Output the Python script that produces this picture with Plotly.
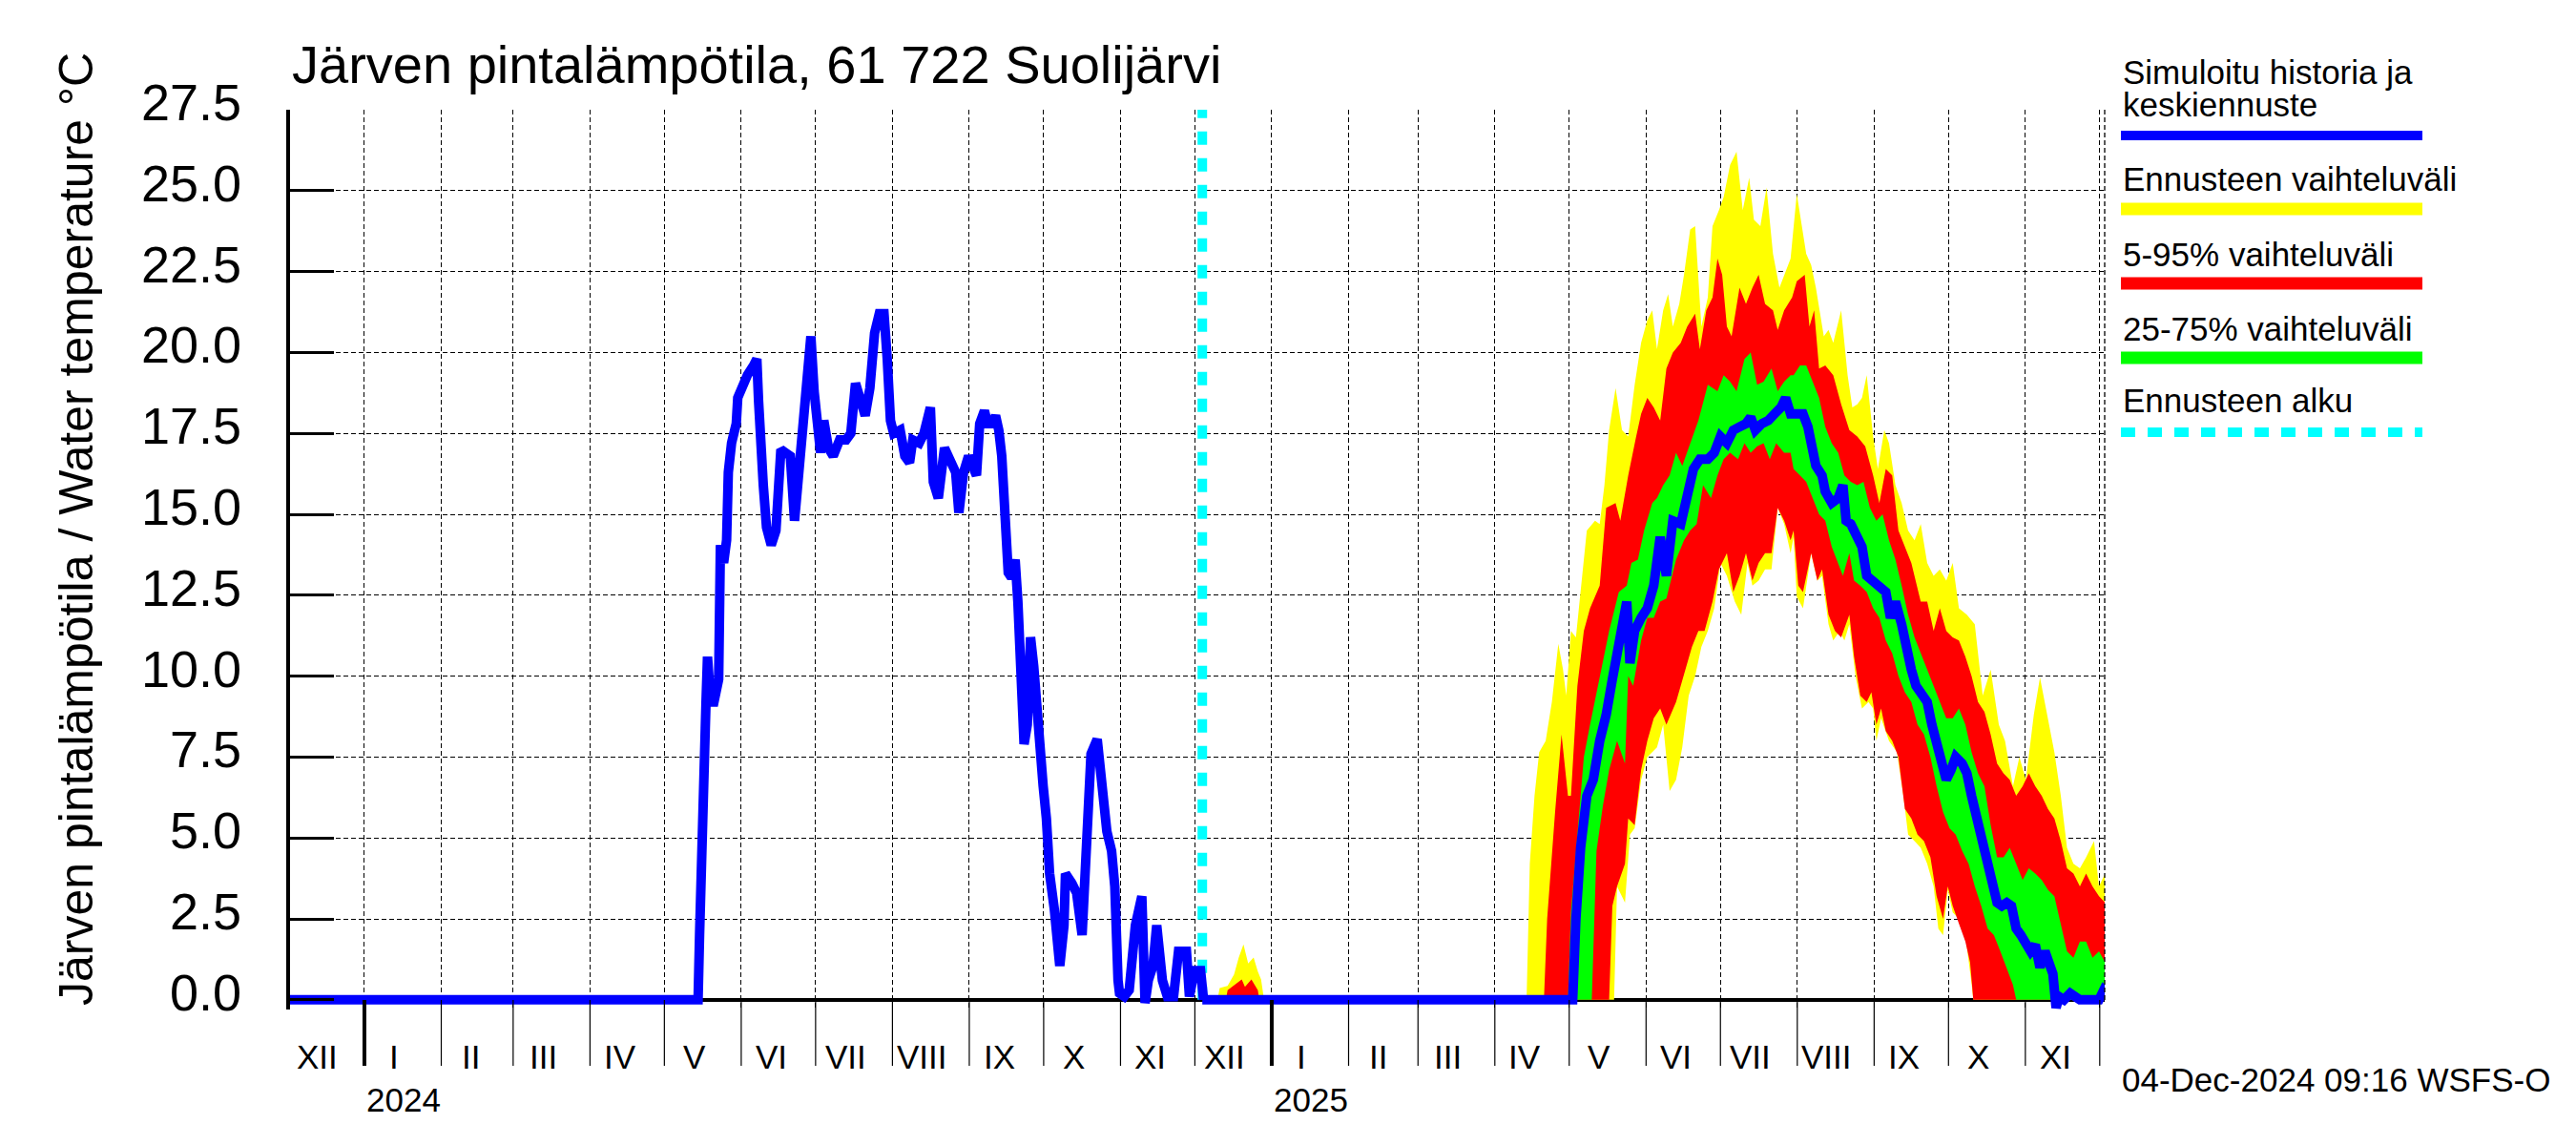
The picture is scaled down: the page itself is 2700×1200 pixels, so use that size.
import pandas as pd
import plotly.graph_objects as go

# ---------------- data ----------------
# simulated history (days since 2024-01-01)
hist_day = [-31, 134.6, 135.2, 135.9, 136.8, 137.8, 138.4, 139.7, 141.0, 142.9, 143.6, 144.9, 146.1, 146.8,
            148.1, 150.0, 150.6, 152.6, 154.5, 157.0, 158.3, 159.0, 159.6, 160.9, 162.2, 164.1, 166.0, 168.0,
            169.9, 171.8, 173.5, 175.0, 176.3, 178.2, 180.1, 181.4, 183.3, 184.0, 185.3, 187.2, 189.1, 191.7,
            194.3, 196.2, 198.1, 200.0, 202.0, 203.9, 205.8, 207.7, 209.6, 210.9, 212.2, 213.5, 216.1, 218.0,
            219.9, 221.2, 223.8, 225.7, 228.3, 229.5, 231.5, 234.0, 236.6, 238.5, 239.8, 241.7, 243.7, 245.6,
            246.9, 248.2, 250.1, 251.4, 253.3, 254.6, 255.9, 257.1, 258.4, 259.7, 261.0, 262.5, 263.6, 264.8,
            266.1, 267.4, 268.7, 270.0, 271.9, 273.8, 275.1, 276.4, 278.3, 280.5, 282.2, 282.8, 285.4, 287.3,
            289.5, 291.1, 293.1, 295.6, 297.6, 299.5, 301.4, 302.7, 304.0, 304.6, 306.5, 308.5, 311.0, 313.6,
            314.9, 316.2, 318.1, 319.6, 321.9, 323.9, 326.4, 328.4, 331.6, 332.8, 334.8, 337.3, 338.5]
hist_temp = [0, 0, 2.0, 4.9, 7.8, 9.2, 10.6, 9.2, 9.2, 9.9, 14.05, 13.5, 14.2, 16.3,
             17.2, 17.8, 18.6, 19.05, 19.3, 19.6, 19.8, 18.5, 16.9, 15.9, 14.6, 14.05, 14.5, 17.0,
             16.9, 16.8, 14.8, 16.2, 17.8, 19.6, 20.5, 18.8, 17.5, 16.9, 17.9, 17.05, 16.8, 17.3,
             17.3, 17.5, 19.05, 18.5, 18.05, 18.9, 20.6, 21.2, 21.2, 19.8, 17.9, 17.5, 17.6, 16.8,
             16.6, 17.3, 17.2, 17.5, 18.3, 16.0, 15.5, 17.05, 16.6, 16.3, 15.05, 16.3, 16.8, 16.3,
             16.2, 17.8, 18.2, 17.8, 17.8, 18.05, 17.6, 16.8, 14.9, 13.2, 13.05, 13.6, 12.3, 9.9,
             7.9, 8.5, 11.2, 10.3, 8.05, 6.6, 5.6, 3.9, 2.8, 1.05, 2.3, 3.9, 3.6, 3.3,
             2.0, 4.9, 7.6, 8.05, 6.3, 5.2, 4.6, 3.5, 0.6, 0.2, 0.1, 0.3, 2.3, 3.2,
             -0.1, 0.6, 1.05, 2.3, 0.6, 0.1, 0.1, 1.5, 1.5, 0.1, 0.9, 0.9, 0.0]

# forecast (days since 2025-01-01)
med_day = [-28, 121.4, 122.7, 124.6, 127.1, 129.7, 132.3, 134.9, 137.4, 139.3, 141.3, 143.2, 144.5, 146.4,
           149.0, 151.5, 154.1, 156.7, 159.2, 161.8, 165.0, 167.6, 170.1, 172.7, 175.9, 178.5, 181.0, 183.6,
           186.2, 188.7, 191.3, 193.2, 195.1, 197.7, 200.3, 202.8, 205.4, 207.3, 209.3, 210.5, 214.3, 216.3,
           217.6, 219.5, 222.0, 223.3, 225.9, 228.5, 230.4, 231.7, 233.6, 236.2, 238.1, 240.0, 242.6, 245.1,
           247.7, 249.6, 251.6, 254.1, 256.0, 258.0, 259.9, 261.8, 264.4, 266.3, 268.2, 270.2, 272.1, 274.0,
           275.9, 278.5, 280.4, 282.3, 284.3, 286.8, 288.8, 290.7, 292.6, 294.5, 296.5, 298.4, 300.3, 302.2,
           304.2, 306.1, 308.0, 309.9, 311.9, 313.8, 315.1, 316.4, 317.6, 319.6, 322.1, 326.0, 333.7, 335.6,
           336.9]
med_val = [0, 0, 2.5, 4.7, 6.3, 6.8, 8.0, 8.8, 9.9, 10.7, 11.4, 12.3, 10.4, 11.4,
           11.8, 12.1, 12.8, 14.3, 13.1, 14.8, 14.7, 15.5, 16.4, 16.7, 16.7, 16.9, 17.4, 17.2,
           17.6, 17.7, 17.8, 18.0, 17.6, 17.8, 17.9, 18.1, 18.3, 18.6, 18.1, 18.1, 18.1, 17.7,
           17.2, 16.5, 16.2, 15.7, 15.35, 15.5, 15.9, 14.8, 14.7, 14.3, 14.0, 13.1, 12.95, 12.8,
           12.6, 11.8, 12.3, 11.6, 10.7, 10.2, 9.7, 9.5, 9.2, 8.5, 8.0, 7.3, 6.8, 7.1,
           7.5, 7.3, 7.0, 6.3, 5.6, 4.7, 4.2, 3.5, 3.0, 2.9, 3.0, 2.9, 2.2, 2.0,
           1.8, 1.5, 1.7, 1.0, 1.5, 1.15, 0.8, -0.25, 0.1, 0, 0.2, 0, 0, 0.3,
           0.2]

max_day = [-28, -21.9, -21.0, -17.8, -15.2, -13.3, -11.4, -9.5, -7.3, -5.6, -4.3, -3.1, 102.8, 104.1,
           106.0, 107.9, 110.5, 113.0, 115.6, 117.5, 118.8, 120.7, 122.7, 125.2, 127.1, 130.4, 132.3, 134.2,
           136.1, 138.7, 141.3, 143.8, 146.4, 149.0, 151.5, 153.5, 155.4, 157.9, 159.9, 161.8, 164.4, 166.3,
           168.8, 170.8, 173.3, 175.9, 177.8, 180.4, 182.3, 184.9, 187.5, 190.0, 192.6, 194.5, 197.1, 199.6,
           202.2, 204.8, 206.7, 209.3, 211.8, 215.6, 217.6, 219.5, 222.7, 224.6, 226.5, 229.7, 232.3, 234.2,
           236.2, 238.1, 240.0, 242.6, 244.5, 247.1, 249.0, 251.6, 254.1, 256.7, 259.3, 261.8, 264.4, 267.0,
           269.5, 272.1, 274.7, 277.2, 280.4, 283.6, 286.8, 290.0, 293.3, 295.8, 299.0, 301.6, 304.2, 307.4,
           309.9, 313.1, 315.7, 318.3, 320.8, 323.4, 326.0, 328.5, 331.7, 333.7, 336.2]
max_val = [0, 0, 0.36, 0.43, 0.78, 1.31, 1.71, 1.12, 1.31, 0.87, 0.63, 0, 0, 4.2,
           6.3, 7.65, 8.0, 9.2, 11.0, 10.2, 9.4, 11.4, 11.2, 13.1, 14.5, 14.8, 14.7, 15.9,
           17.6, 18.9, 17.6, 17.4, 19.0, 20.3, 21.0, 21.3, 20.1, 21.3, 21.8, 20.8, 21.5, 22.4,
           23.8, 23.9, 20.8, 21.7, 23.9, 24.4, 24.8, 25.8, 26.2, 24.4, 25.4, 24.1, 23.9, 25.1,
           23.05, 22.0, 22.4, 22.9, 24.9, 23.05, 22.7, 22.0, 20.5, 20.7, 20.3, 21.3, 19.3, 18.3,
           18.4, 18.6, 19.3, 17.4, 16.4, 17.6, 17.2, 15.9, 15.35, 14.5, 14.2, 14.7, 13.5, 13.1,
           13.3, 12.95, 13.5, 12.1, 11.9, 11.6, 9.4, 10.2, 8.5, 8.0, 6.6, 7.5, 6.8, 8.8,
           9.96, 8.7, 7.65, 6.3, 4.7, 4.2, 4.06, 4.4, 4.9, 3.5, 3.9]

min_day = [-28, 138.1, 139.3, 142.5, 144.5, 146.4, 149.0, 151.5, 155.4, 157.9, 160.5, 163.1, 165.6, 168.2,
           170.8, 173.3, 175.9, 178.5, 181.0, 183.6, 186.8, 189.4, 191.9, 193.9, 196.4, 199.0, 201.6, 204.1,
           206.7, 209.3, 210.5, 211.8, 214.3, 217.6, 220.1, 222.0, 224.6, 226.5, 229.1, 231.0, 233.0, 235.5,
           238.1, 240.7, 242.6, 243.9, 245.8, 249.0, 252.2, 254.8, 256.7, 259.3, 261.8, 264.4, 267.0, 268.9,
           270.8, 272.7, 274.7, 277.2, 279.8, 282.3, 283.0, 336.2]
min_val = [0, 0, 3.5, 3.0, 5.1, 5.3, 6.8, 7.5, 7.8, 8.5, 6.45, 6.8, 7.8, 9.4,
           10.0, 10.9, 11.4, 12.1, 13.5, 13.1, 12.3, 11.9, 13.5, 12.8, 12.95, 13.3, 13.3, 15.2,
           14.7, 13.8, 14.3, 12.45, 12.1, 13.8, 12.95, 13.1, 11.6, 11.1, 11.4, 11.1, 11.6, 10.0,
           9.0, 9.2, 9.0, 8.0, 8.7, 8.0, 7.65, 6.3, 5.1, 4.9, 4.7, 4.2, 3.5, 2.2,
           2.0, 3.4, 2.7, 2.5, 2.0, 0.5, 0, 0]

p95_day = [-28, -18.5, -17.8, -14.6, -12.1, -10.8, -8.2, -5.6, -5.0, 109.8, 111.1, 114.3, 116.9, 119.5,
           120.7, 123.3, 125.9, 128.4, 132.3, 134.9, 138.7, 140.6, 143.8, 147.0, 149.0, 151.5, 154.1, 156.7,
           159.2, 161.8, 165.0, 167.6, 170.8, 172.7, 175.3, 177.8, 179.8, 181.7, 183.6, 185.5, 188.7, 191.3,
           193.9, 196.4, 199.0, 202.2, 204.1, 206.7, 209.9, 211.8, 215.0, 216.9, 218.8, 220.8, 223.3, 226.5,
           229.7, 233.0, 236.2, 239.4, 242.6, 245.1, 247.7, 250.3, 252.8, 255.4, 258.0, 261.8, 264.4, 267.0,
           269.5, 272.1, 274.7, 277.2, 279.8, 282.3, 284.9, 287.5, 290.0, 292.6, 295.2, 297.7, 300.3, 302.9,
           305.4, 308.0, 310.6, 313.1, 315.7, 318.3, 320.8, 323.4, 326.0, 328.5, 331.1, 333.7, 336.2]
p95_val = [0, 0, 0.3, 0.5, 0.63, 0.4, 0.63, 0.3, 0, 0, 2.5, 5.8, 8.2, 6.3,
           6.3, 9.7, 11.4, 12.1, 12.8, 15.2, 15.35, 14.8, 16.2, 17.4, 18.1, 18.6, 18.3, 17.9,
           19.5, 20.0, 20.3, 20.8, 21.2, 20.1, 21.3, 21.7, 22.9, 22.4, 20.8, 20.5, 22.0, 21.5,
           22.0, 22.4, 21.5, 21.3, 20.7, 21.3, 21.7, 22.2, 22.4, 20.8, 21.3, 19.5, 19.6, 19.3,
           18.4, 17.6, 17.4, 17.1, 16.2, 15.35, 16.4, 16.2, 14.5, 14.0, 13.5, 12.3, 12.3, 11.4,
           12.1, 11.4, 11.2, 11.1, 10.6, 10.0, 9.2, 8.9, 8.2, 7.3, 7.0, 6.8, 6.3, 6.6,
           7.0, 6.6, 6.3, 5.9, 5.6, 4.9, 4.06, 3.9, 3.5, 3.9, 3.5, 3.2, 3.0]

p5_day = [-28, 136.1, 137.4, 139.3, 142.5, 143.8, 146.4, 149.0, 151.5, 154.1, 156.7, 159.2, 163.1, 166.9,
          169.5, 172.1, 174.6, 177.8, 180.4, 183.6, 186.2, 188.7, 191.3, 193.9, 196.4, 199.0, 201.6, 204.1,
          206.7, 209.3, 210.5, 212.4, 214.3, 217.6, 220.1, 222.0, 224.6, 227.2, 229.7, 233.0, 234.9, 237.4,
          240.0, 241.9, 243.9, 245.8, 247.7, 250.3, 252.8, 255.4, 258.0, 260.5, 263.1, 265.7, 268.2, 270.8,
          272.7, 274.7, 277.2, 279.8, 281.7, 283.0, 336.2]
p5_val = [0, 0, 2.9, 3.5, 4.2, 5.6, 5.4, 7.1, 8.0, 8.7, 9.0, 8.5, 9.2, 10.2,
          10.9, 11.4, 11.4, 12.3, 13.3, 13.8, 12.6, 13.1, 13.8, 12.95, 13.5, 13.8, 13.8, 15.2,
          14.8, 14.2, 14.5, 12.8, 12.6, 13.8, 12.95, 13.3, 11.9, 11.4, 11.2, 11.9, 10.6, 9.4,
          9.2, 9.5, 8.5, 9.0, 8.3, 8.0, 7.5, 5.9, 5.6, 5.1, 4.9, 4.4, 3.2, 2.5,
          3.5, 2.9, 2.35, 1.8, 1.15, 0, 0]

p75_day = [-28, 119.5, 120.7, 123.3, 125.9, 128.4, 132.3, 136.1, 140.0, 143.2, 145.1, 147.7, 150.2, 153.5,
           155.4, 157.9, 160.5, 163.1, 165.6, 168.8, 172.1, 175.9, 179.8, 182.3, 184.9, 187.5, 190.7, 193.2,
           195.8, 198.4, 201.6, 204.1, 206.7, 209.3, 210.5, 213.1, 215.6, 218.2, 220.8, 223.3, 225.9, 228.5,
           231.0, 233.6, 236.2, 238.7, 241.3, 243.9, 246.4, 249.0, 251.6, 254.1, 256.7, 259.3, 261.8, 264.4,
           267.0, 269.5, 272.1, 274.7, 277.2, 279.8, 282.3, 284.9, 287.5, 290.0, 292.6, 295.2, 297.7, 300.3,
           302.9, 305.4, 308.0, 310.6, 313.1, 315.7, 318.3, 320.8, 323.4, 326.0, 328.5, 331.1, 333.7, 336.2]
p75_val = [0, 0, 2.7, 5.1, 7.5, 8.5, 10.0, 11.4, 12.6, 12.8, 13.5, 13.6, 14.5, 15.35,
           15.5, 15.9, 16.2, 16.9, 16.5, 17.2, 17.9, 19.0, 18.8, 19.3, 19.1, 18.8, 19.8, 20.0,
           19.0, 19.1, 19.5, 18.8, 19.1, 19.3, 19.3, 19.6, 19.6, 19.1, 18.6, 17.7, 17.2, 16.9,
           16.2, 16.0, 15.9, 16.0, 15.2, 14.8, 15.0, 14.2, 13.6, 12.8, 11.9, 11.2, 10.7, 10.2,
           9.7, 9.2, 8.7, 8.7, 9.0, 8.5, 7.65, 7.0, 6.6, 5.4, 4.4, 4.4, 4.7, 4.2,
           3.7, 4.06, 3.9, 3.7, 3.4, 3.2, 2.35, 1.5, 1.3, 1.8, 1.8, 1.3, 1.5, 1.15]

p25_day = [-28, 129.1, 131.0, 133.6, 136.1, 139.3, 142.5, 143.8, 145.8, 149.0, 151.5, 154.1, 156.7, 159.2,
           163.1, 166.3, 168.8, 171.4, 174.0, 177.2, 179.8, 182.3, 184.9, 188.1, 190.7, 193.2, 195.8, 198.4,
           200.9, 203.5, 206.7, 209.3, 210.5, 213.1, 215.6, 218.2, 220.8, 223.3, 225.9, 228.5, 230.4, 233.0,
           234.9, 237.4, 240.0, 242.6, 245.1, 247.7, 250.3, 252.8, 255.4, 258.0, 260.5, 263.1, 265.7, 268.2,
           270.8, 273.4, 275.9, 278.5, 281.1, 283.6, 286.2, 288.8, 291.3, 293.9, 296.5, 299.0, 300.3, 336.2]
p25_val = [0, 0, 4.6, 6.0, 7.1, 8.0, 7.3, 10.0, 9.7, 11.1, 11.8, 11.8, 12.3, 12.4,
           13.6, 14.2, 14.5, 14.7, 15.9, 15.5, 16.2, 16.7, 16.9, 16.7, 17.2, 16.9, 17.1, 17.2,
           16.7, 17.2, 16.9, 16.9, 16.4, 16.2, 16.0, 15.5, 15.0, 14.8, 14.0, 13.5, 13.1, 13.8,
           12.95, 12.8, 12.6, 12.1, 11.8, 11.1, 10.7, 10.0, 9.5, 9.2, 8.5, 8.2, 7.5, 6.6,
           5.8, 5.3, 5.1, 4.6, 4.2, 3.5, 2.9, 2.2, 2.0, 1.5, 1.0, 0.46, 0, 0]

forecast_start = "2024-12-04"
timestamp_text = "04-Dec-2024 09:16 WSFS-O"
title_text = "Järven pintalämpötila, 61 722 Suolijärvi"
ytitle_text = "Järven pintalämpötila / Water temperature °C"
month_labels = ["XII", "I", "II", "III", "IV", "V", "VI", "VII", "VIII", "IX", "X", "XI",
                "XII", "I", "II", "III", "IV", "V", "VI", "VII", "VIII", "IX", "X", "XI"]
year_labels = ["2024", "2025"]
y_ticks = [0, 2.5, 5, 7.5, 10, 12.5, 15, 17.5, 20, 22.5, 25, 27.5]
legend_entries = [("Ennusteen vaihteluväli", "#FFFF00"),
                  ("5-95% vaihteluväli", "#FF0000"),
                  ("25-75% vaihteluväli", "#00FF00")]

# ---------------- helpers ----------------
BASE24 = pd.Timestamp("2024-01-01")
BASE25 = pd.Timestamp("2025-01-01")


def dates(base, days):
    return [base + pd.Timedelta(days=float(d)) for d in days]


FONT = "Liberation Sans, Arial, Helvetica, sans-serif"
YELLOW, RED, GREEN, BLUE, CYAN = "#FFFF00", "#FF0000", "#00FF00", "#0000FF", "#00FFFF"
GRID_DASH = "5px,3px"

fig = go.Figure()

bands = [(max_day, max_val, min_day, min_val, YELLOW),
         (p95_day, p95_val, p5_day, p5_val, RED),
         (p75_day, p75_val, p25_day, p25_val, GREEN)]
for ud, uv, ld, lv, col in bands:
    xs = dates(BASE25, ud) + dates(BASE25, ld)[::-1]
    ys = list(uv) + list(lv)[::-1]
    fig.add_trace(go.Scatter(x=xs, y=ys, mode="lines", fill="toself", fillcolor=col,
                             line=dict(width=0, color=col), hoverinfo="skip"))

fs = pd.Timestamp(forecast_start)
fig.add_trace(go.Scatter(x=[fs, fs], y=[0, 27.5], mode="lines",
                         line=dict(color=CYAN, width=10, dash="14px,14px"), hoverinfo="skip"))

fig.add_trace(go.Scatter(x=dates(BASE24, hist_day) + dates(BASE25, med_day),
                         y=list(hist_temp) + list(med_val), mode="lines",
                         line=dict(color=BLUE, width=10), hoverinfo="skip"))

# ---------------- layout ----------------
W, H = 2700, 1200
L, R, T, B = 304, 494, 115, 142
PH = H - T - B          # plot height in px
ZERO_PX = 1048          # pixel row of y=0


def py(px):
    """paper y for a pixel row"""
    return (H - B - px) / PH


def pxx(px):
    return (px - L) / (W - L - R)


month_starts = pd.date_range("2024-01-01", "2025-12-01", freq="MS")
label_months = pd.date_range("2023-12-01", "2025-11-01", freq="MS")

shapes = []
for m in month_starts:
    thick = m.month == 1
    shapes.append(dict(type="line", xref="x", yref="paper", x0=m, x1=m,
                       y0=py(ZERO_PX), y1=py(1117),
                       line=dict(color="black", width=4 if thick else 1.2)))
shapes.append(dict(type="line", xref="paper", yref="paper", x0=1, x1=1, y0=py(ZERO_PX), y1=1,
                   line=dict(color="black", width=1.3, dash=GRID_DASH)))

annotations = []
# y tick labels (sit slightly above their grid lines, as in the original)
for v in y_ticks:
    annotations.append(dict(x=pxx(255), y=v, xref="paper", yref="y", text=f"{v:.1f}",
                            showarrow=False, xanchor="right", yanchor="middle", yshift=8,
                            font=dict(size=54, color="black", family=FONT)))
for m, lab in zip(label_months, month_labels):
    annotations.append(dict(x=m + pd.Timedelta(days=12), y=py(1107), xref="x", yref="paper",
                            text=lab, showarrow=False, xanchor="center", yanchor="middle",
                            font=dict(size=35, color="black", family=FONT)))
for yr, lab in zip(["2024-01-01", "2025-01-01"], year_labels):
    annotations.append(dict(x=pd.Timestamp(yr), y=py(1152), xref="x", yref="paper", text=lab,
                            showarrow=False, xanchor="left", yanchor="middle",
                            font=dict(size=35, color="black", family=FONT)))

annotations.append(dict(x=pxx(304), y=py(68), xref="paper", yref="paper", text=title_text,
                        showarrow=False, xanchor="left", yanchor="middle",
                        font=dict(size=56, color="black", family=FONT)))
annotations.append(dict(x=pxx(80), y=py(555), xref="paper", yref="paper", text=ytitle_text,
                        textangle=-90, showarrow=False, xanchor="center", yanchor="middle",
                        font=dict(size=50, color="black", family=FONT)))
annotations.append(dict(x=pxx(2222), y=py(1131), xref="paper", yref="paper", text=timestamp_text,
                        showarrow=False, xanchor="left", yanchor="middle",
                        font=dict(size=35, color="black", family=FONT)))

# legend (manual)
LX0, LX1 = pxx(2223), pxx(2539)
leg_text = [("Simuloitu historia ja", 76), ("keskiennuste", 109)]
for t, yy in leg_text:
    annotations.append(dict(x=LX0, y=py(yy), xref="paper", yref="paper", text=t, showarrow=False,
                            xanchor="left", yanchor="middle",
                            font=dict(size=35, color="black", family=FONT)))
shapes.append(dict(type="line", xref="paper", yref="paper", x0=LX0, x1=LX1, y0=py(142), y1=py(142),
                   line=dict(color=BLUE, width=10)))
for i, (t, col) in enumerate(legend_entries):
    ty = 188 + 78 * i
    ly = 219 + 78 * i
    annotations.append(dict(x=LX0, y=py(ty), xref="paper", yref="paper", text=t, showarrow=False,
                            xanchor="left", yanchor="middle",
                            font=dict(size=35, color="black", family=FONT)))
    shapes.append(dict(type="line", xref="paper", yref="paper", x0=LX0, x1=LX1, y0=py(ly), y1=py(ly),
                       line=dict(color=col, width=13)))
annotations.append(dict(x=LX0, y=py(420), xref="paper", yref="paper", text="Ennusteen alku",
                        showarrow=False, xanchor="left", yanchor="middle",
                        font=dict(size=35, color="black", family=FONT)))
shapes.append(dict(type="line", xref="paper", yref="paper", x0=LX0, x1=LX1, y0=py(453), y1=py(453),
                   line=dict(color=CYAN, width=10, dash="15px,13px")))

fig.update_layout(
    width=W, height=H,
    margin=dict(l=L, r=R, t=T, b=B, pad=0),
    paper_bgcolor="white", plot_bgcolor="white",
    showlegend=False,
    font=dict(family=FONT, color="black"),
    shapes=shapes, annotations=annotations,
    xaxis=dict(type="date", range=["2023-12-02", "2025-12-03"],
               tickmode="array", tickvals=list(month_starts),
               showticklabels=False, ticks="",
               showgrid=True, gridcolor="black", gridwidth=1.3, griddash=GRID_DASH,
               showline=False, zeroline=False),
    yaxis=dict(range=[-0.3, 27.5], tickmode="array", tickvals=y_ticks,
               showticklabels=False,
               ticks="inside", ticklen=46, tickwidth=3, tickcolor="black",
               showline=True, linecolor="black", linewidth=4,
               showgrid=True, gridcolor="black", gridwidth=1.3, griddash=GRID_DASH,
               zeroline=True, zerolinecolor="black", zerolinewidth=4),
)

fig.write_html("out.html", config={"displayModeBar": False},
               post_script="document.body.style.margin='0px';document.body.style.padding='0px';")
